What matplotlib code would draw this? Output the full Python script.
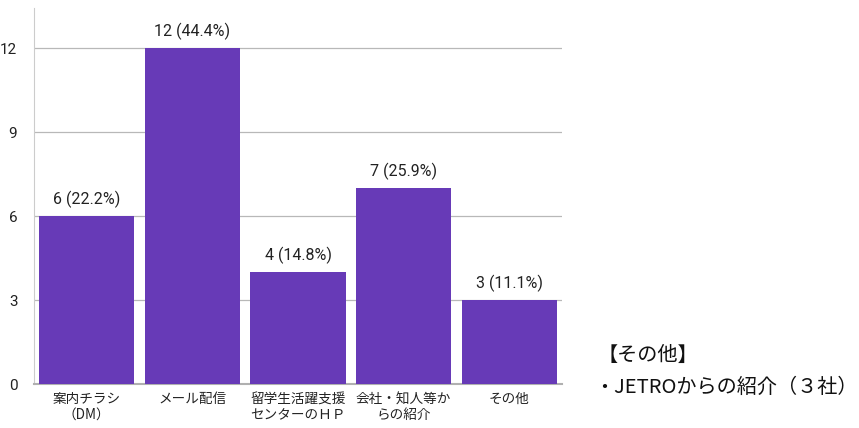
import matplotlib
matplotlib.use('Agg')
import matplotlib.pyplot as plt
import numpy as np

plt.rcParams['font.family'] = ['Noto Sans CJK JP', 'DejaVu Sans']

# Data
categories = ['案内チラシ\n（DM）', 'メール配信', '留学生活躍支援\nセンターのＨＰ',
              '会社・知人等か\nらの紹介', 'その他']
counts = [6, 12, 4, 7, 3]
percents = [22.2, 44.4, 14.8, 25.9, 11.1]
y_ticks = [0, 3, 6, 9, 12]

fig = plt.figure(figsize=(8.59, 4.28), dpi=100)
ax = fig.add_axes([34 / 859, 44 / 428, (562 - 34) / 859, (384 - 8) / 428])

x = np.arange(len(categories))
ax.bar(x, counts, width=0.9, color='#673ab7', zorder=3)

for xi, c, p in zip(x, counts, percents):
    ax.text(xi, c + 0.3, f'{c} ({p}%)', ha='center', va='bottom',
            fontsize=11.5, color='#222222', family=['Roboto', 'DejaVu Sans'])

ax.set_xlim(-0.5, 4.5)
ax.set_ylim(0, 13.43)
ax.set_yticks(y_ticks)
ax.set_yticklabels([str(t) for t in y_ticks], fontsize=11, color='#222222',
                   family=['Roboto', 'DejaVu Sans'])
ax.set_xticks(x)
ax.set_xticklabels(categories, fontsize=9.8, color='#222222', linespacing=1.15)
ax.tick_params(length=0, pad=6)
ax.tick_params(axis='y', pad=12)

ax.grid(axis='y', color='#b8b8b8', linewidth=0.9, zorder=0)
for s in ['top', 'right']:
    ax.spines[s].set_visible(False)
ax.spines['left'].set_color('#cccccc')
ax.spines['bottom'].set_color('#b0b0b0')
ax.spines['bottom'].set_linewidth(1.5)

fig.text(598 / 859, 1 - 355 / 428, '【その他】', fontsize=14.5, va='center', ha='left',
         color='#111111')
fig.text(594 / 859, 1 - 387 / 428, '・JETROからの紹介（３社）', fontsize=14.5,
         va='center', ha='left', color='#111111')

fig.savefig('out.png', dpi=100)
